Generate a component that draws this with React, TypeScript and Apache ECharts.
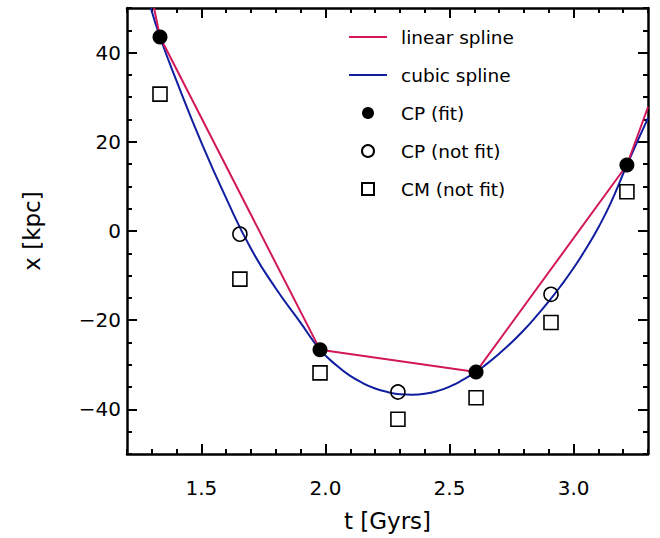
import React, { useEffect, useRef } from "react";
import * as echarts from "echarts";

// ---- data ----
const tTicks = [1.5, 2.0, 2.5, 3.0];
const xTicks = [-40, -20, 0, 20, 40];

const cpFit = [
  [1.333, 43.5],
  [1.978, -26.6],
  [2.607, -31.6],
  [3.215, 14.8],
];
const cpNotFit = [
  [1.655, -0.7],
  [2.292, -36.1],
  [2.909, -14.2],
];
const cmNotFit = [
  [1.333, 30.7],
  [1.655, -10.8],
  [1.978, -31.8],
  [2.292, -42.2],
  [2.607, -37.4],
  [2.909, -20.5],
  [3.215, 8.8],
];
const linearSpline = [
  [1.309, 50],
  [1.333, 43.5],
  [1.978, -26.6],
  [2.607, -31.6],
  [3.215, 14.8],
  [3.3, 27.8],
];
const cubicSpline = [
  [1.296, 50],
  [1.333, 43.5],
  [1.4, 33.6],
  [1.5, 19.8],
  [1.6, 7.3],
  [1.7, -4.0],
  [1.8, -12.9],
  [1.9, -20.6],
  [1.978, -26.6],
  [2.05, -30.4],
  [2.1, -32.5],
  [2.15, -34.1],
  [2.2, -35.3],
  [2.25, -36.1],
  [2.3, -36.6],
  [2.35, -36.7],
  [2.4, -36.5],
  [2.45, -35.9],
  [2.5, -34.9],
  [2.55, -33.5],
  [2.607, -31.6],
  [2.65, -29.8],
  [2.7, -27.5],
  [2.75, -25.0],
  [2.8, -22.2],
  [2.85, -19.1],
  [2.9, -15.8],
  [2.95, -12.2],
  [3.0, -8.3],
  [3.05, -4.0],
  [3.1, 0.8],
  [3.15, 6.3],
  [3.215, 14.8],
  [3.3, 25.3],
];

const RED = "#d2175a";
const BLUE = "#101ea0";
const FONT = "DejaVu Sans";

export default function App() {
  const ref = useRef<HTMLDivElement>(null);
  useEffect(() => {
    document.body.style.margin = "0";
    const chart = echarts.init(ref.current!, null, { renderer: "svg" });
    const tickStyle = { color: "#000", width: 2 };
    const axisLine = { show: true, onZero: false, lineStyle: { color: "#000", width: 2.5 } };
    const xMajor = (pos: string, labels: boolean) => ({
      type: "value",
      position: pos,
      min: 1.2,
      max: 3.3,
      axisLine,
      axisTick: { show: true, inside: true, length: 10, customValues: tTicks, lineStyle: tickStyle },
      axisLabel: labels
        ? {
            show: true,
            customValues: tTicks,
            formatter: (v: number) => v.toFixed(1),
            margin: 24,
            fontSize: 20,
            color: "#000",
            fontFamily: FONT,
          }
        : { show: false },
      splitLine: { show: false },
      ...(labels
        ? {
            name: "t [Gyrs]",
            nameLocation: "middle",
            nameGap: 55,
            nameTextStyle: { fontSize: 23, color: "#000", fontFamily: FONT },
          }
        : {}),
    });
    const xMinor = (pos: string) => ({
      type: "value",
      position: pos,
      min: 1.2,
      max: 3.3,
      interval: 0.1,
      axisLine: { show: false, onZero: false },
      axisTick: { show: true, inside: true, length: 5, lineStyle: tickStyle },
      axisLabel: { show: false },
      splitLine: { show: false },
    });
    const yMajor = (pos: string, labels: boolean) => ({
      type: "value",
      position: pos,
      min: -50,
      max: 50,
      axisLine,
      axisTick: { show: true, inside: true, length: 10, customValues: xTicks, lineStyle: tickStyle },
      axisLabel: labels
        ? {
            show: true,
            customValues: xTicks,
            formatter: (v: number) => (v < 0 ? "\u2212" + Math.abs(v) : String(v)),
            margin: 6,
            fontSize: 20,
            color: "#000",
            fontFamily: FONT,
          }
        : { show: false },
      splitLine: { show: false },
      ...(labels
        ? {
            name: "x [kpc]",
            nameLocation: "middle",
            nameGap: 84,
            nameTextStyle: { fontSize: 23, color: "#000", fontFamily: FONT },
          }
        : {}),
    });
    const yMinor = (pos: string) => ({
      type: "value",
      position: pos,
      min: -50,
      max: 50,
      interval: 5,
      axisLine: { show: false, onZero: false },
      axisTick: { show: true, inside: true, length: 5, lineStyle: tickStyle },
      axisLabel: { show: false },
      splitLine: { show: false },
    });

    chart.setOption({
      animation: false,
      backgroundColor: "#fff",
      grid: { left: 127, right: 12, top: 8, bottom: 84 },
      xAxis: [xMajor("bottom", true), xMinor("bottom"), xMajor("top", false), xMinor("top")],
      yAxis: [yMajor("left", true), yMinor("left"), yMajor("right", false), yMinor("right")],
      legend: {
        orient: "vertical",
        left: 344,
        top: 22,
        itemWidth: 38,
        itemHeight: 12,
        itemGap: 18,
        selectedMode: false,
        textStyle: { fontSize: 18.5, color: "#000", fontFamily: FONT, lineHeight: 20, padding: [0, 0, 0, 9] },
        data: [
          { name: "linear spline", icon: "path://M0,0h38v2h-38z" },
          { name: "cubic spline", icon: "path://M0,0h38v2h-38z" },
          { name: "CP (fit)", icon: "circle" },
          { name: "CP (not fit)", icon: "circle" },
          { name: "CM (not fit)", icon: "path://M0,0h10v10h-10z" },
        ],
      },
      series: [
        {
          name: "cubic spline",
          type: "line",
          data: cubicSpline,
          smooth: 0.5,
          symbol: "none",
          color: BLUE,
          lineStyle: { color: BLUE, width: 2 },
          z: 2,
        },
        {
          name: "linear spline",
          type: "line",
          data: linearSpline,
          symbol: "none",
          color: RED,
          lineStyle: { color: RED, width: 2 },
          z: 3,
        },
        {
          name: "CP (fit)",
          type: "scatter",
          data: cpFit,
          symbol: "circle",
          symbolSize: 15,
          itemStyle: { color: "#000", opacity: 1 },
          z: 5,
        },
        {
          name: "CP (not fit)",
          type: "scatter",
          data: cpNotFit,
          symbol: "circle",
          symbolSize: 14,
          itemStyle: { color: "transparent", borderColor: "#000", borderWidth: 1.6, opacity: 1 },
          z: 5,
        },
        {
          name: "CM (not fit)",
          type: "scatter",
          data: cmNotFit,
          symbol: "rect",
          symbolSize: 14,
          itemStyle: { color: "transparent", borderColor: "#000", borderWidth: 1.6, opacity: 1 },
          z: 5,
        },
      ],
    });
    return () => chart.dispose();
  }, []);
  return <div ref={ref} style={{ width: 660, height: 538 }} />;
}
